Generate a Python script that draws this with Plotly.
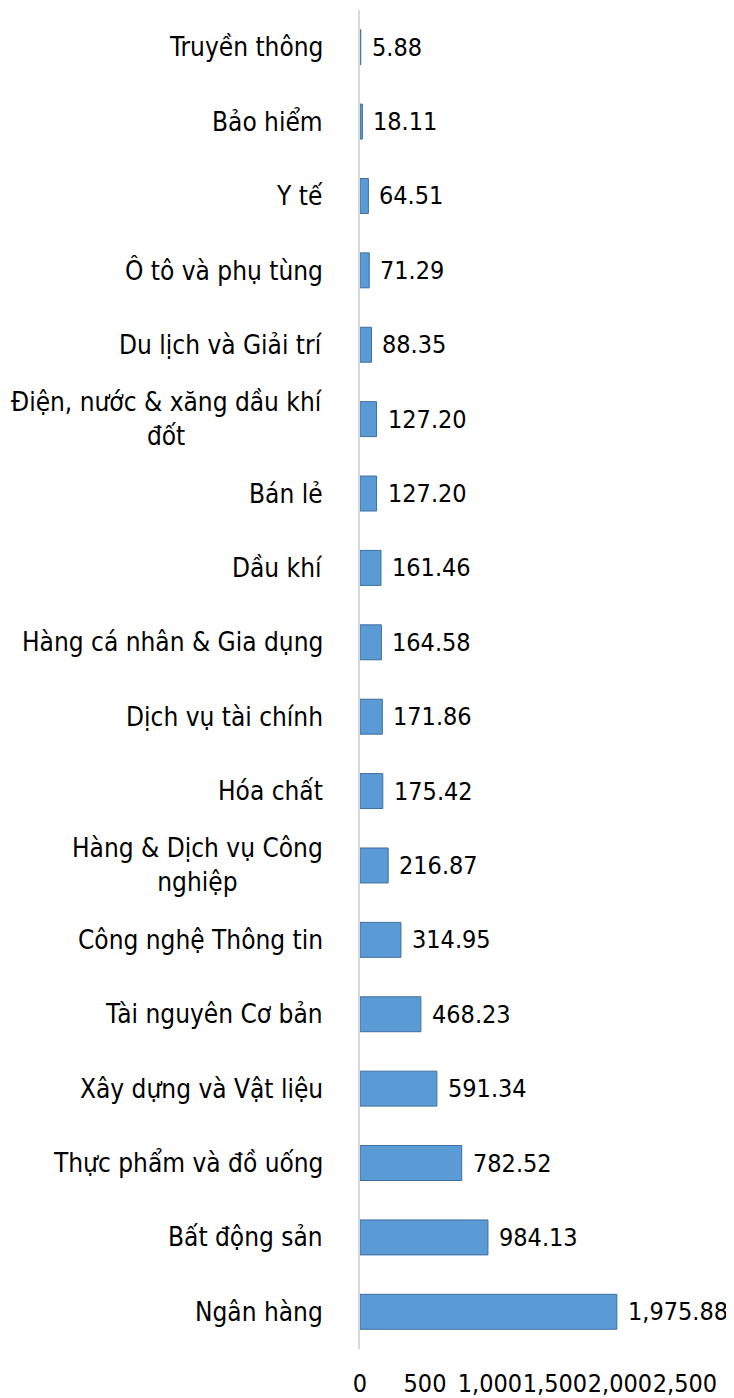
import plotly.graph_objects as go

# Ngành (từ trên xuống dưới) và giá trị tương ứng:
nganh = [
    'Truyền thông',
    'Bảo hiểm',
    'Y tế',
    'Ô tô và phụ tùng',
    'Du lịch và Giải trí',
    'Điện, nước & xăng dầu khí<br>đốt',
    'Bán lẻ',
    'Dầu khí',
    'Hàng cá nhân & Gia dụng',
    'Dịch vụ tài chính',
    'Hóa chất',
    'Hàng & Dịch vụ Công<br>nghiệp',
    'Công nghệ Thông tin',
    'Tài nguyên Cơ bản',
    'Xây dựng và Vật liệu',
    'Thực phẩm và đồ uống',
    'Bất động sản',
    'Ngân hàng',
]
gia_tri = [5.88, 18.11, 64.51, 71.29, 88.35, 127.20, 127.20, 161.46, 164.58,
           171.86, 175.42, 216.87, 314.95, 468.23, 591.34, 782.52, 984.13, 1975.88]

font_family = 'DejaVu Sans Condensed, DejaVu Sans, sans-serif'
font_size = 26      # nhãn ngành
num_size = 25       # nhãn số (chữ số của font này rộng hơn một chút)

fig = go.Figure()

fig.add_trace(
    go.Bar(
        x           = gia_tri,
        y           = nganh,
        orientation = 'h',
        width       = 0.47,
        marker      = dict(color='#5B9BD5', line=dict(color='#3E6E9E', width=1)),
        hoverinfo   = 'skip',
    )
)

# Nhãn ngành (căn giữa khi xuống dòng):
annotations = []
for name in nganh:
    annotations.append(dict(
        text      = name,
        xref      = 'paper',
        x         = 0,
        y         = name,
        xanchor   = 'right',
        yanchor   = 'middle',
        xshift    = -35,
        align     = 'center',
        showarrow = False,
        font      = dict(family=font_family, size=font_size, color='black'),
    ))

# Nhãn giá trị:
for name, val in zip(nganh, gia_tri):
    annotations.append(dict(
        text      = f'{val:,.2f}',
        x         = val,
        y         = name,
        xanchor   = 'left',
        yanchor   = 'middle',
        xshift    = 9,
        showarrow = False,
        font      = dict(family=font_family, size=num_size, color='black'),
    ))

# La trang có lề 8px nên thu nhỏ khung hình tương ứng:
fig.update_layout(
    width         = 726,
    height        = 1390,
    margin        = dict(l=352, r=49, t=2, b=49),
    paper_bgcolor = 'white',
    plot_bgcolor  = 'white',
    showlegend    = False,
    annotations   = annotations,
    font          = dict(family=font_family, size=font_size, color='black'),
    xaxis = dict(
        range             = [0, 2500],
        dtick             = 500,
        tickformat        = ',',
        tickangle         = 0,
        showgrid          = False,
        zeroline          = False,
        showline          = False,
        ticks             = '',
        automargin        = False,
        ticklabelstandoff = 17,
        tickfont          = dict(family=font_family, size=num_size, color='black'),
    ),
    yaxis = dict(
        categoryorder  = 'array',
        categoryarray  = nganh,
        autorange      = 'reversed',
        showticklabels = False,
        showgrid       = False,
        zeroline       = False,
        showline       = True,
        linecolor      = '#d9d9d9',
        linewidth      = 2,
        ticks          = '',
        automargin     = False,
    ),
)

fig.write_html('out.html')
